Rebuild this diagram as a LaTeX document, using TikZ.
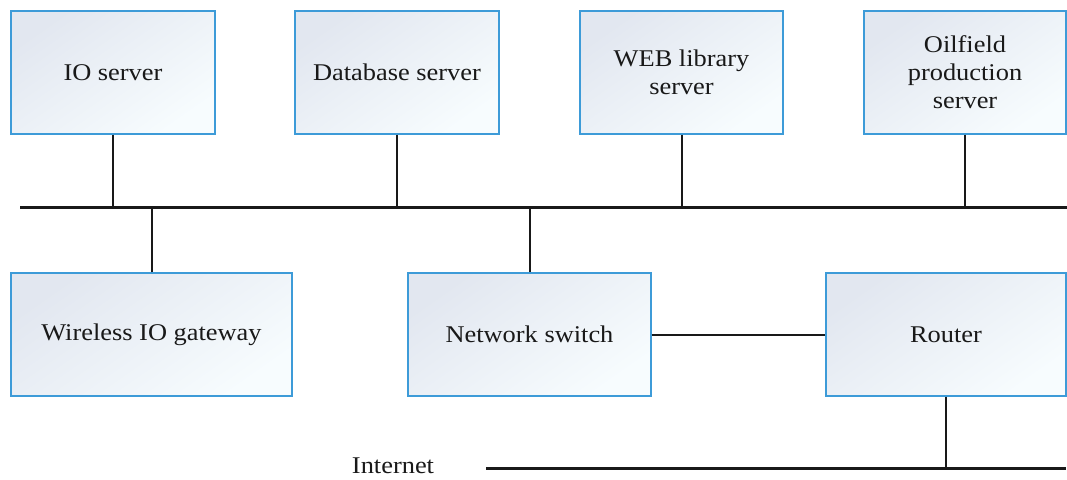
\documentclass[tikz,border=0pt]{standalone}
\usepackage{fontspec}
\setmainfont{Liberation Serif}[FakeStretch=1.1]
\definecolor{boxedge}{HTML}{3D9BD8}
\definecolor{boxA}{HTML}{E2E7F0}
\definecolor{boxB}{HTML}{F7FCFE}
\tikzset{
  box/.style={draw=boxedge, line width=1.4pt, top color=boxA, bottom color=boxB,
    shading angle=35, align=center, inner sep=0pt,
    font=\fontsize{24}{28}\selectfont, text=black!90},
  topbox/.style={box, minimum height=123pt},
  wire/.style={draw=black!90, line width=2pt},
  buswire/.style={draw=black!90, line width=3pt},
  lbl/.style={font=\fontsize{24}{28}\selectfont, text=black!90, inner sep=0pt}
}
\begin{document}
\begin{tikzpicture}[x=1pt,y=-1pt]
\useasboundingbox (0,0) rectangle (1067,479);
\fill[white] (0,0) rectangle (1067,479);
% top servers
\node[topbox, minimum width=204pt] (io) at (113,72.5) {IO server};
\node[topbox, minimum width=204pt] (db) at (397,72.5) {Database server};
\node[topbox, minimum width=203pt] (web) at (681.5,72.5) {WEB library\\server};
\node[topbox, minimum width=202pt] (oil) at (965,72.5) {Oilfield\\production\\server};
% bottom devices
\node[topbox, minimum width=281pt] (gw) at (151.5,334.5) {Wireless IO gateway};
\node[topbox, minimum width=243pt] (sw) at (529.5,334.5) {Network switch};
\node[topbox, minimum width=240pt] (rt) at (946,334.5) {Router};
% bus
\coordinate (busL) at (20,207);
\coordinate (busR) at (1067,207);
\draw[buswire] (busL) -- (busR);
\foreach \n in {io,db,web,oil}{
  \draw[wire] (\n.south) -- (\n.south |- busL);
}
\foreach \n in {gw,sw}{
  \draw[wire] (\n.north) -- (\n.north |- busL);
}
\draw[wire] (sw.east) -- (rt.west);
% internet
\node[lbl] (inet) at (393,466) {Internet};
\coordinate (inL) at (486,468);
\coordinate (inR) at (1066,468);
\draw[buswire] (inL) -- (inR);
\draw[wire] (rt.south) -- (rt.south |- inL);
\end{tikzpicture}
\end{document}
